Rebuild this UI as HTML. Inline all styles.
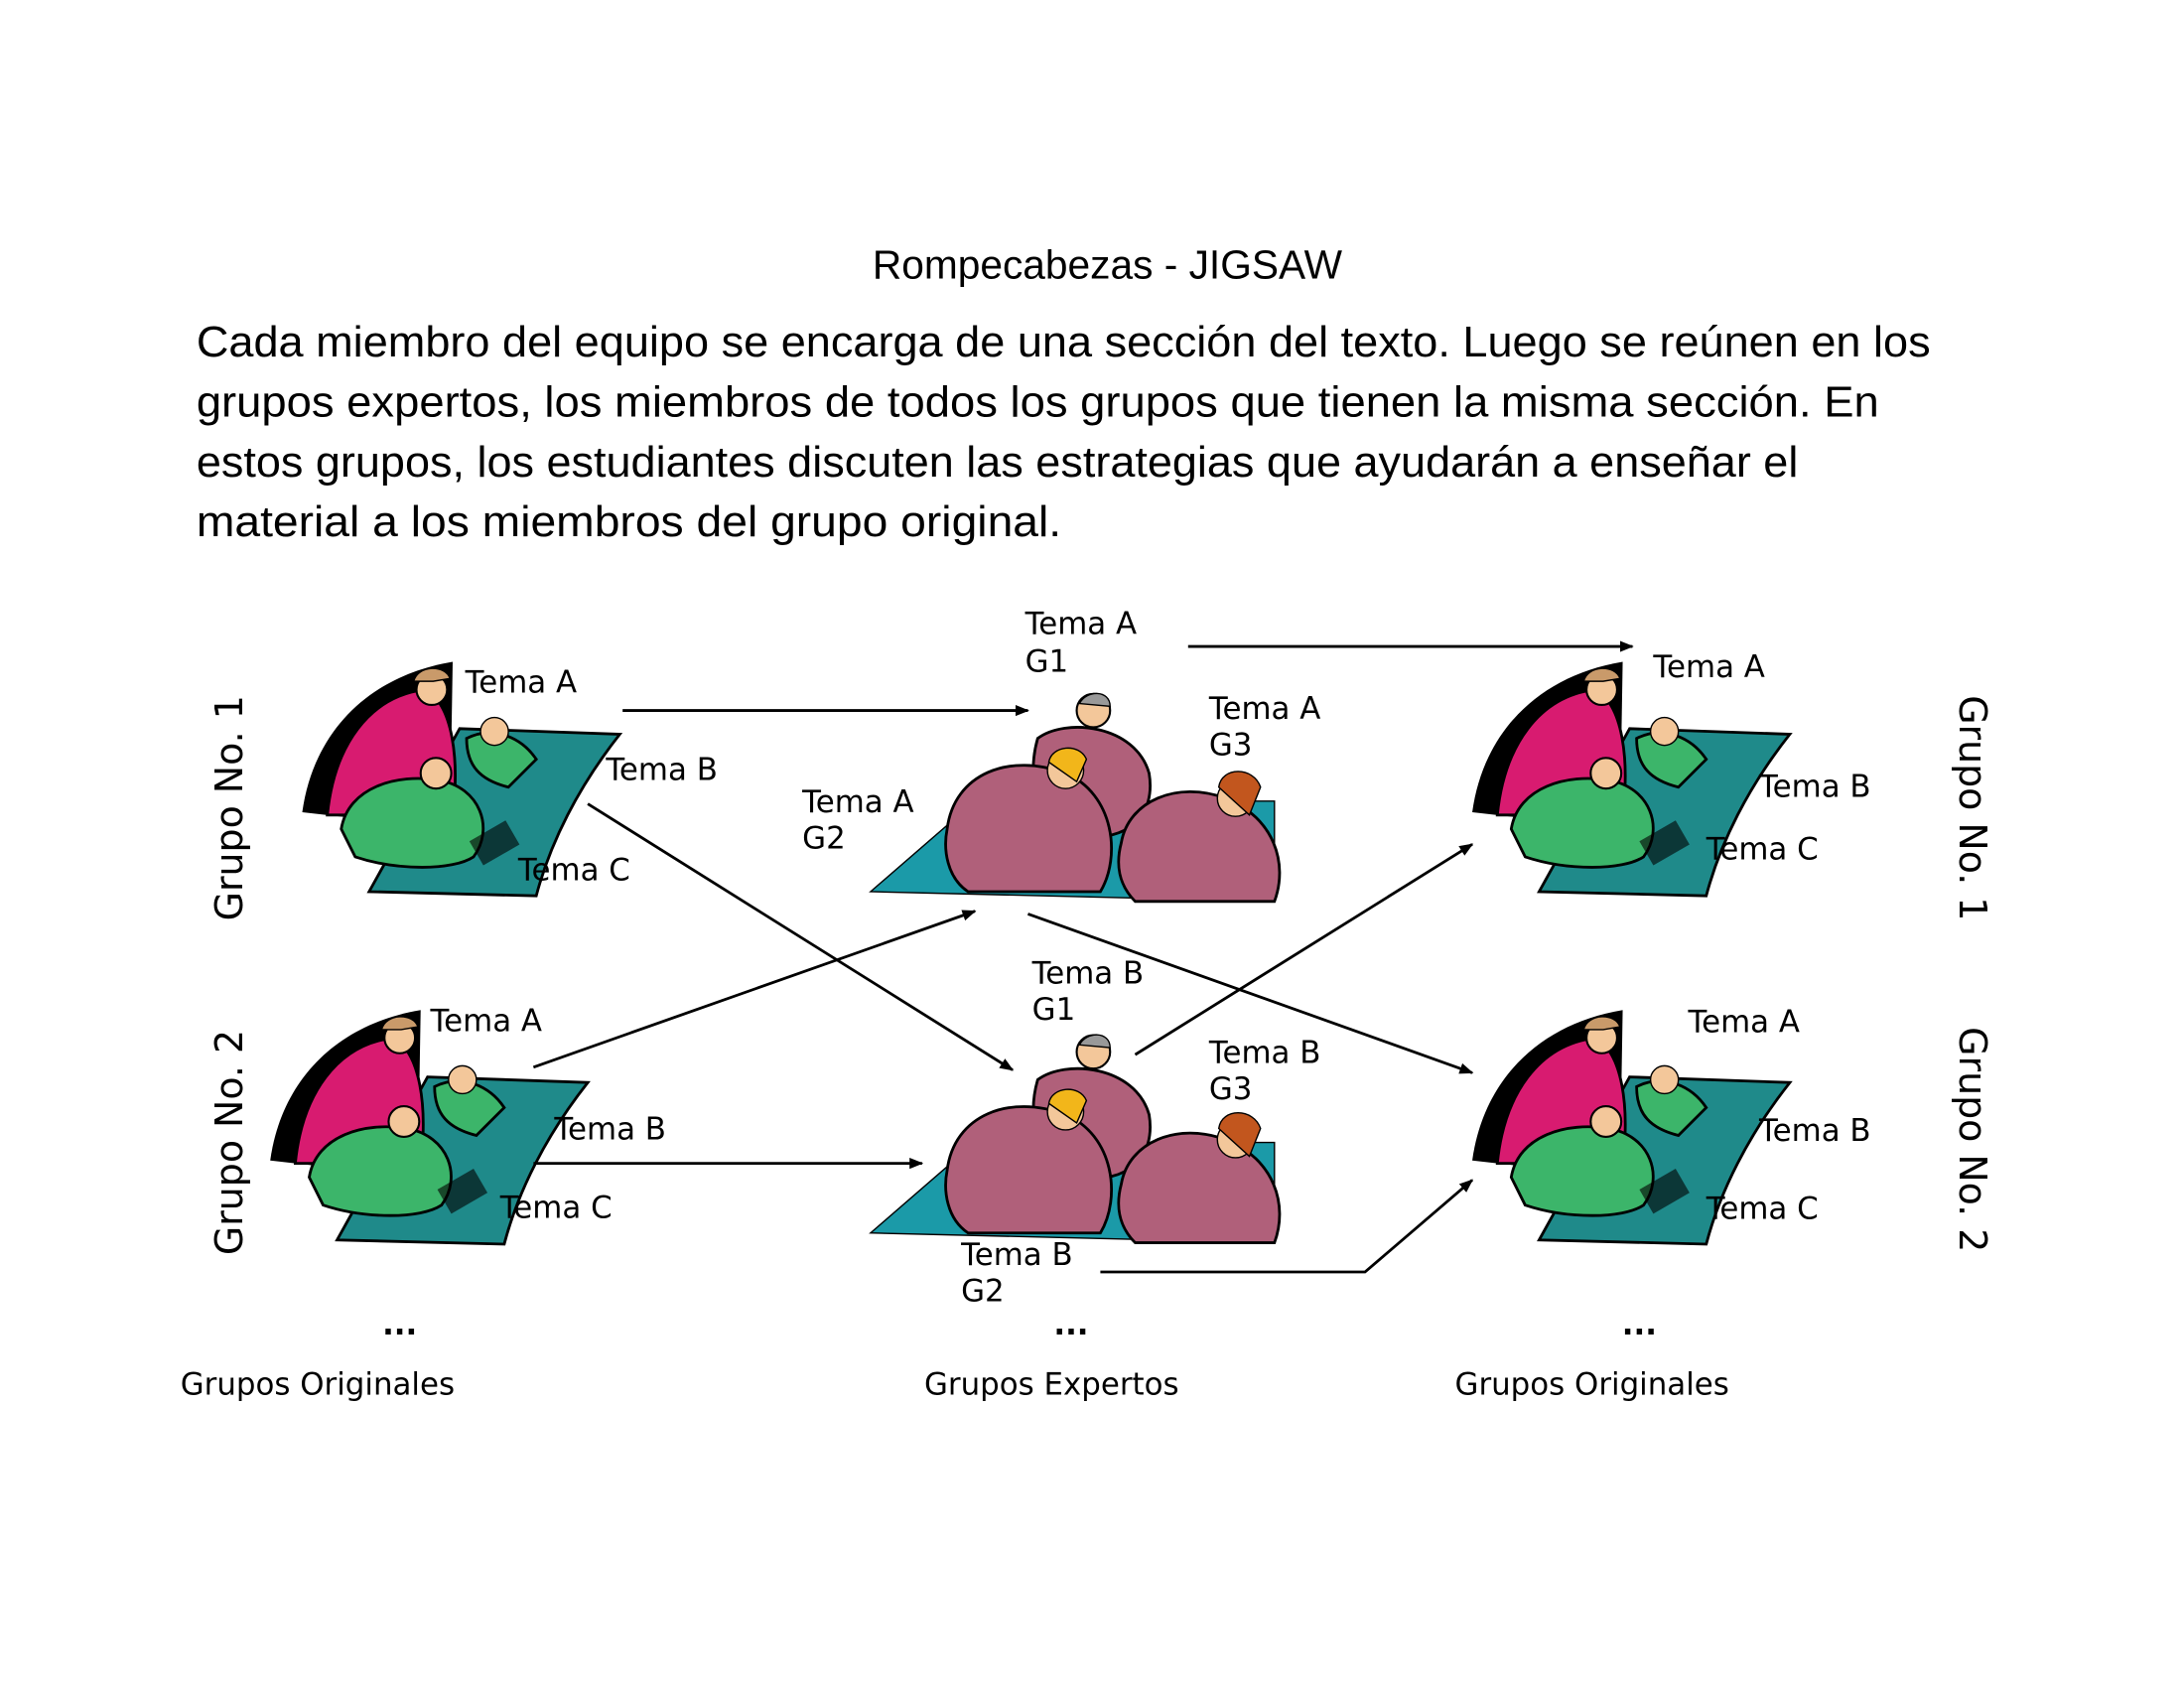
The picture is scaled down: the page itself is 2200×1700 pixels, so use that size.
<!DOCTYPE html>
<html><head><meta charset="utf-8"><style>
html,body{margin:0;padding:0;background:#fff;}
svg{display:block;}
.t{font-family:"DejaVu Sans",Verdana,sans-serif;font-size:22px;fill:#000;}
.c{font-family:"Liberation Sans",sans-serif;fill:#000;}
</style></head><body>
<svg width="2200" height="1700" viewBox="0 0 1568 1211.6" preserveAspectRatio="none" xmlns="http://www.w3.org/2000/svg">
<defs>
<marker id="ah" markerWidth="10" markerHeight="8" refX="9" refY="4" orient="auto" markerUnits="userSpaceOnUse">
<path d="M0,0 L10,4 L0,8 z" fill="#000"/></marker>
<g id="orig">
<path d="M2,108 C10,50 50,10 110,0 L108,120 Z" fill="#000"/>
<path d="M115,48 L230,52 C200,90 180,130 170,168 L50,165 Z" fill="#1f8a8a" stroke="#000" stroke-width="2"/>
<path d="M20,110 C25,60 50,25 90,20 C110,30 115,70 110,110 Z" fill="#d81b70" stroke="#000" stroke-width="2"/>
<circle cx="95" cy="20" r="11" fill="#f3c79a" stroke="#000" stroke-width="1.5"/>
<path d="M82,14 C85,2 105,2 108,12 L96,14 Z" fill="#c99a6a" stroke="#000"/>
<path d="M120,55 C140,45 160,55 170,70 L150,90 C130,85 120,75 120,55Z" fill="#3cb56a" stroke="#000" stroke-width="2"/>
<circle cx="140" cy="50" r="10" fill="#f3c79a" stroke="#000"/>
<path d="M30,120 C35,90 70,80 100,85 C130,90 140,120 125,140 C110,150 70,150 40,140 Z" fill="#3cb56a" stroke="#000" stroke-width="2"/>
<circle cx="98" cy="80" r="11" fill="#f3c79a" stroke="#000" stroke-width="1.5"/>
<rect x="125" y="120" width="30" height="20" fill="#000" opacity="0.6" transform="rotate(-30 140 130)"/>
</g>
<g id="exp">
<path d="M0,145 L75,80 L290,80 L290,152 Z" fill="#1b9aa8" stroke="#000" stroke-width="1"/>
<path d="M120,35 C140,20 190,25 200,60 C205,90 185,110 150,105 C125,100 110,70 120,35Z" fill="#b0607a" stroke="#000" stroke-width="2"/>
<circle cx="160" cy="15" r="12" fill="#f3c79a" stroke="#000" stroke-width="1.5"/>
<path d="M150,10 C155,0 172,0 172,12 Z" fill="#999" stroke="#000"/>
<path d="M55,100 C60,60 100,45 140,60 C175,75 180,120 165,145 L70,145 C55,135 52,115 55,100Z" fill="#b0607a" stroke="#000" stroke-width="2"/>
<circle cx="140" cy="58" r="13" fill="#f3c79a" stroke="#000"/>
<path d="M128,52 C130,40 150,38 155,50 L148,66 Z" fill="#f2b61a" stroke="#000"/>
<path d="M180,110 C185,80 220,65 255,78 C290,92 300,125 290,152 L190,152 C178,140 176,125 180,110Z" fill="#b0607a" stroke="#000" stroke-width="2"/>
<circle cx="262" cy="78" r="13" fill="#f3c79a" stroke="#000"/>
<path d="M250,70 C252,55 275,55 280,70 L272,90 Z" fill="#c2561e" stroke="#000"/>
</g>
</defs>

<text class="c" x="795" y="200" font-size="29" text-anchor="middle">Rompecabezas - JIGSAW</text>
<text class="c" x="141" y="256" font-size="31" textLength="1245" lengthAdjust="spacingAndGlyphs">Cada miembro del equipo se encarga de una sección del texto. Luego se reúnen en los</text>
<text class="c" x="141" y="299" font-size="31" textLength="1208" lengthAdjust="spacingAndGlyphs">grupos expertos, los miembros de todos los grupos que tienen la misma sección. En</text>
<text class="c" x="141" y="342" font-size="31" textLength="1150" lengthAdjust="spacingAndGlyphs">estos grupos, los estudiantes discuten las estrategias que ayudarán a enseñar el</text>
<text class="c" x="141" y="385" font-size="31" textLength="621" lengthAdjust="spacingAndGlyphs">material a los miembros del grupo original.</text>

<use href="#orig" x="215" y="475"/>
<use href="#orig" x="192" y="725"/>
<use href="#orig" x="1055" y="475"/>
<use href="#orig" x="1055" y="725"/>
<use href="#exp" x="625" y="495"/>
<use href="#exp" x="625" y="740"/>

<g class="t">
<text x="334" y="497">Tema A</text>
<text x="435" y="560">Tema B</text>
<text x="372" y="632">Tema C</text>
<text x="309" y="740">Tema A</text>
<text x="398" y="818">Tema B</text>
<text x="359" y="874">Tema C</text>
<text x="736" y="455">Tema A</text><text x="736" y="482">G1</text>
<text x="868" y="516">Tema A</text><text x="868" y="542">G3</text>
<text x="576" y="583">Tema A</text><text x="576" y="609">G2</text>
<text x="741" y="706">Tema B</text><text x="741" y="732">G1</text>
<text x="868" y="763">Tema B</text><text x="868" y="789">G3</text>
<text x="690" y="908">Tema B</text><text x="690" y="934">G2</text>
<text x="1187" y="486">Tema A</text>
<text x="1263" y="572">Tema B</text>
<text x="1225" y="617">Tema C</text>
<text x="1212" y="741">Tema A</text>
<text x="1263" y="819">Tema B</text>
<text x="1225" y="875">Tema C</text>
<text x="287" y="958" text-anchor="middle" font-weight="bold">...</text>
<text x="769" y="958" text-anchor="middle" font-weight="bold">...</text>
<text x="1177" y="958" text-anchor="middle" font-weight="bold">...</text>
<text x="228" y="1001" text-anchor="middle">Grupos Originales</text>
<text x="755" y="1001" text-anchor="middle">Grupos Expertos</text>
<text x="1143" y="1001" text-anchor="middle">Grupos Originales</text>
<text font-size="27" transform="translate(174,580) rotate(-90)" text-anchor="middle">Grupo No. 1</text>
<text font-size="27" transform="translate(174,820) rotate(-90)" text-anchor="middle">Grupo No. 2</text>
<text font-size="27" transform="translate(1407,580) rotate(90)" text-anchor="middle">Grupo No. 1</text>
<text font-size="27" transform="translate(1407,818) rotate(90)" text-anchor="middle">Grupo No. 2</text>
</g>

<g stroke="#000" stroke-width="2" fill="none" marker-end="url(#ah)">
<line x1="447" y1="510" x2="738" y2="510"/>
<line x1="853" y1="464" x2="1172" y2="464"/>
<line x1="422" y1="577" x2="727" y2="768"/>
<line x1="383" y1="766" x2="700" y2="654"/>
<line x1="383" y1="835" x2="662" y2="835"/>
<line x1="738" y1="656" x2="1057" y2="770"/>
<line x1="815" y1="757" x2="1057" y2="606"/>
<polyline points="790,913 980,913 1057,847"/>
</g>
</svg>
</body></html>
